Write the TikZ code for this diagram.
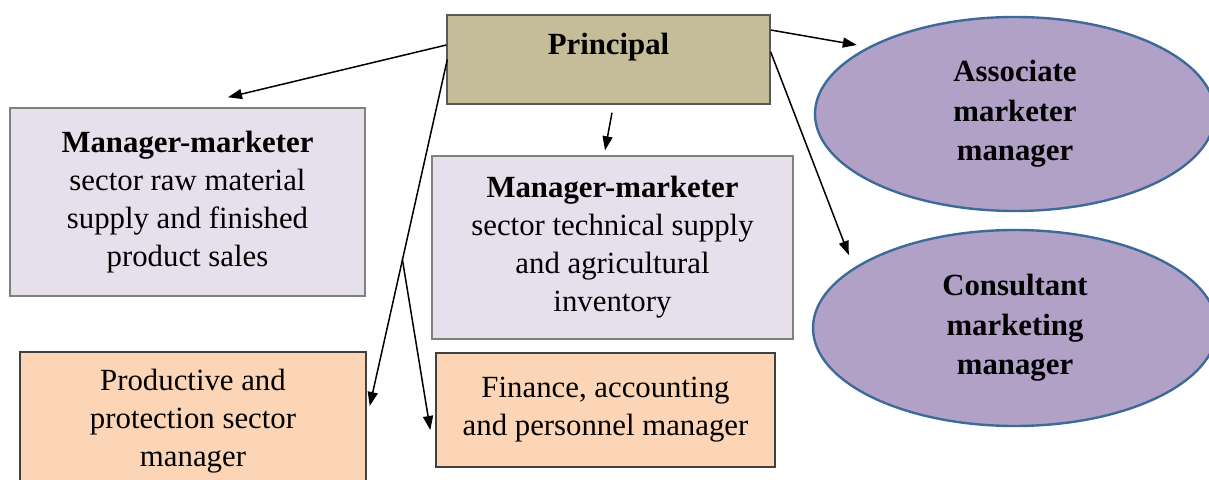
\documentclass[tikz,border=0pt]{standalone}
\usepackage{fontspec}
\setmainfont{Liberation Serif}
\usetikzlibrary{arrows.meta,shapes.geometric,calc}
\definecolor{princfill}{RGB}{196,189,151}
\definecolor{lavfill}{RGB}{229,224,236}
\definecolor{peachfill}{RGB}{251,213,181}
\definecolor{ovalfill}{RGB}{178,161,199}
\definecolor{ovaledge}{RGB}{61,106,153}
\begin{document}
\begin{tikzpicture}[x=1pt,y=1pt,
  every node/.style={font=\fontsize{30.8}{38}\selectfont, align=center, inner sep=0pt},
  boxbase/.style={draw, line width=1.4pt, rectangle},
  headbox/.style={boxbase, draw=black!65, fill=princfill},
  lavbox/.style={boxbase, draw=black!50, fill=lavfill},
  peachbox/.style={boxbase, draw=black!75, fill=peachfill},
  oval/.style={ellipse, draw=ovaledge, line width=2.4pt, fill=ovalfill, font=\fontsize{30.8}{39.5}\selectfont\bfseries},
  link/.style={draw=black, line width=1.5pt, -{Triangle[length=14pt,width=10pt]}}]
\useasboundingbox (0,0) rectangle (1209,479);
\clip (0,0) rectangle (1209,479);

% boxes
\node[headbox, minimum width=323pt, text height=40pt, text depth=49pt] (P) at (608.5,419.5) {\textbf{Principal}};
\node[lavbox, minimum width=355pt, minimum height=188pt] (LM) at (187.5,277)
  {\textbf{Manager-marketer}\\sector raw material\\supply and finished\\product sales};
\node[lavbox, minimum width=361pt, minimum height=183pt] (MM) at (612.5,231.5)
  {\textbf{Manager-marketer}\\sector technical supply\\and agricultural\\inventory};
\node[peachbox, minimum width=346pt, minimum height=138pt] (OL) at (193,58)
  {Productive and\\protection sector\\manager};
\node[peachbox, minimum width=339pt, minimum height=114pt] (OM) at (605.5,69)
  {Finance, accounting\\and personnel manager};
\node[oval, minimum width=400pt, minimum height=194pt] (E1) at (1015,365)
  {Associate\\marketer\\manager};
\node[oval, minimum width=404pt, minimum height=196pt] (E2) at (1015,151)
  {Consultant\\marketing\\manager};

% connector end points
\coordinate (pL1) at ($(P.west)+(0,14.5)$);
\coordinate (pL2) at ($(P.west)+(1,0)$);
\coordinate (pB)  at ($(P.south)+(3.5,-8)$);
\coordinate (pR1) at ($(P.east)+(0,29.5)$);
\coordinate (pR2) at ($(P.east)+(0,7.5)$);
\coordinate (lmTip) at ($(LM.north)+(40.5,10)$);
\coordinate (mmTip) at ($(MM.north)+(-7.5,5)$);
\coordinate (olTip) at ($(OL.east)+(3,15)$);
\coordinate (omTip) at ($(OM.west)+(-5,-20)$);
\coordinate (e1Tip) at ($(E1.west)+(43,69)$);
\coordinate (e2Tip) at ($(E2.west)+(37,73)$);
\coordinate (fork) at ($(pL2)!0.578!(olTip)$);

% connectors
\draw[link] (pL1) -- (lmTip);
\draw[link] (pB) -- (mmTip);
\draw[link] (pL2) -- (olTip);
\draw[link] (fork) -- (omTip);
\draw[link] (pR1) -- (e1Tip);
\draw[link] (pR2) -- (e2Tip);
\end{tikzpicture}
\end{document}
